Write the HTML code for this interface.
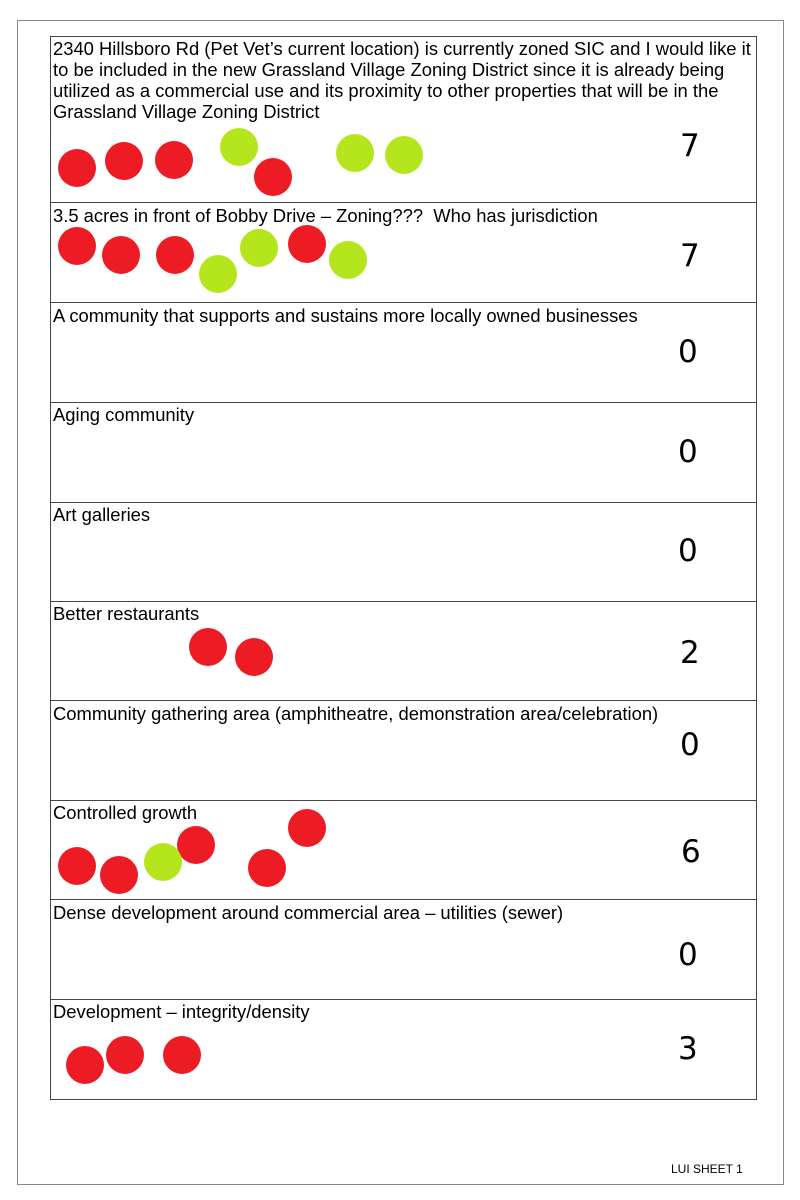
<!DOCTYPE html>
<html><head><meta charset="utf-8"><style>
html,body{margin:0;padding:0;background:#fff;}
body{width:800px;height:1200px;position:relative;overflow:hidden;font-family:"Liberation Sans",Arial,sans-serif;}
.t{position:absolute;left:53px;font-size:18.4px;line-height:21px;color:#000;width:702px;}
.n{position:absolute;font-family:"DejaVu Sans","Liberation Sans",sans-serif;font-size:31px;color:#000;}
.f{position:absolute;left:671px;top:1162px;font-size:12px;}
</style></head><body>
<svg width="800" height="1200" style="position:absolute;left:0;top:0">
<rect x="17.5" y="20.5" width="766" height="1164" fill="none" stroke="#888" stroke-width="1"/>
<rect x="50.5" y="36.5" width="706" height="1063" fill="none" stroke="#444" stroke-width="1"/>
<g stroke="#444" stroke-width="1">
<line x1="50" x2="757" y1="202.5" y2="202.5"/>
<line x1="50" x2="757" y1="302.5" y2="302.5"/>
<line x1="50" x2="757" y1="402.5" y2="402.5"/>
<line x1="50" x2="757" y1="502.5" y2="502.5"/>
<line x1="50" x2="757" y1="601.5" y2="601.5"/>
<line x1="50" x2="757" y1="700.5" y2="700.5"/>
<line x1="50" x2="757" y1="800.5" y2="800.5"/>
<line x1="50" x2="757" y1="899.5" y2="899.5"/>
<line x1="50" x2="757" y1="999.5" y2="999.5"/>
</g>
<g fill="#ed1c24">
<circle cx="77" cy="168" r="19"/><circle cx="124" cy="161" r="19"/><circle cx="174" cy="160" r="19"/><circle cx="273" cy="177" r="19"/>
<circle cx="77" cy="246" r="19"/><circle cx="121" cy="255" r="19"/><circle cx="175" cy="255" r="19"/><circle cx="307" cy="244" r="19"/>
<circle cx="208" cy="647" r="19"/><circle cx="254" cy="657" r="19"/>
<circle cx="77" cy="866" r="19"/><circle cx="119" cy="875" r="19"/><circle cx="196" cy="845" r="19"/><circle cx="267" cy="868" r="19"/><circle cx="307" cy="828" r="19"/>
<circle cx="85" cy="1065" r="19"/><circle cx="125" cy="1055" r="19"/><circle cx="182" cy="1055" r="19"/>
</g>
<g fill="#b5e61d">
<circle cx="239" cy="147" r="19"/><circle cx="355" cy="153" r="19"/><circle cx="404" cy="155" r="19"/>
<circle cx="218" cy="274" r="19"/><circle cx="259" cy="248" r="19"/><circle cx="348" cy="260" r="19"/>
<circle cx="163" cy="862" r="19"/>
</g>
</svg>
<div class="t" style="top:38px">2340 Hillsboro Rd (Pet Vet’s current location) is currently zoned SIC and I would like it to be included in the new Grassland Village Zoning District since it is already being utilized as a commercial use and its proximity to other properties that will be in the Grassland Village Zoning District</div>
<div class="t" style="top:205px">3.5 acres in front of Bobby Drive – Zoning???&nbsp; Who has jurisdiction</div>
<div class="t" style="top:305px">A community that supports and sustains more locally owned businesses</div>
<div class="t" style="top:404px">Aging community</div>
<div class="t" style="top:504px">Art galleries</div>
<div class="t" style="top:603px">Better restaurants</div>
<div class="t" style="top:703px">Community gathering area (amphitheatre, demonstration area/celebration)</div>
<div class="t" style="top:802px">Controlled growth</div>
<div class="t" style="top:902px">Dense development around commercial area – utilities (sewer)</div>
<div class="t" style="top:1001px">Development – integrity/density</div>
<div class="n" style="left:680px;top:128px">7</div>
<div class="n" style="left:680px;top:238px">7</div>
<div class="n" style="left:678px;top:334px">0</div>
<div class="n" style="left:678px;top:434px">0</div>
<div class="n" style="left:678px;top:533px">0</div>
<div class="n" style="left:680px;top:635px">2</div>
<div class="n" style="left:680px;top:727px">0</div>
<div class="n" style="left:681px;top:834px">6</div>
<div class="n" style="left:678px;top:937px">0</div>
<div class="n" style="left:678px;top:1031px">3</div>
<div class="f">LUI SHEET 1</div>
</body></html>
